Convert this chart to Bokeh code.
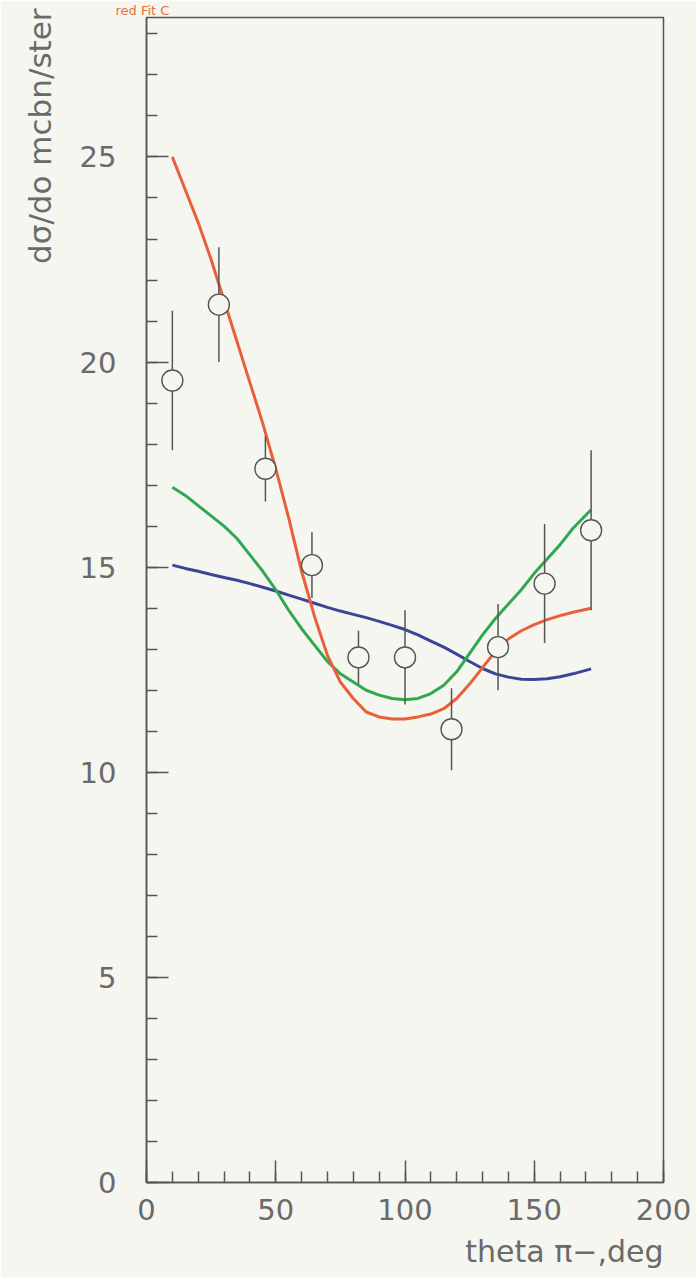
from bokeh.plotting import figure
from bokeh.models import Range1d, SingleIntervalTicker, Title, ColumnDataSource
from bokeh.embed import file_html
from bokeh.resources import INLINE

# measured points: pion angle (deg), cross section, error
theta_pts = [10, 28, 46, 64, 82, 100, 118, 136, 154, 172]
xsec = [19.55, 21.4, 17.4, 15.05, 12.8, 12.8, 11.05, 13.05, 14.6, 15.9]
xsec_err = [1.7, 1.4, 0.8, 0.8, 0.65, 1.15, 1.0, 1.05, 1.45, 1.95]

# fit curves
theta_fit = [10, 15, 20, 25, 30, 35, 40, 45, 50, 55, 60, 65, 70, 75, 80, 85, 90,
             95, 100, 105, 110, 115, 120, 125, 130, 135, 140, 145, 150, 155, 160, 165, 172]
fit_red = [25.0, 24.2, 23.4, 22.5, 21.5, 20.5, 19.5, 18.5, 17.4, 16.2, 14.9, 13.8, 12.85,
           12.2, 11.8, 11.47, 11.35, 11.3, 11.3, 11.35, 11.42, 11.55, 11.8, 12.15, 12.55,
           12.95, 13.25, 13.45, 13.6, 13.72, 13.82, 13.9, 14.0]
fit_green = [16.95, 16.75, 16.5, 16.25, 16.0, 15.7, 15.3, 14.9, 14.45, 13.95, 13.5, 13.1,
             12.7, 12.4, 12.2, 12.0, 11.88, 11.8, 11.77, 11.8, 11.92, 12.12, 12.45, 12.9,
             13.35, 13.75, 14.1, 14.45, 14.85, 15.2, 15.55, 15.95, 16.4]
fit_blue = [15.05, 14.97, 14.9, 14.82, 14.75, 14.68, 14.6, 14.51, 14.42, 14.32, 14.22,
            14.12, 14.02, 13.93, 13.85, 13.77, 13.68, 13.58, 13.48, 13.35, 13.2, 13.05,
            12.88, 12.7, 12.53, 12.4, 12.32, 12.27, 12.26, 12.28, 12.33, 12.4, 12.52]

title_text = "red Fit C"
x_title = "theta \u03c0\u2212,deg"
y_title = "d\u03c3/do mcbn/ster"

BG = "#f6f6f1"
INK = "#555555"
TXT = "#6a6a6a"
FONT = "DejaVu Sans"

p = figure(width=696, height=1277, output_backend="svg", toolbar_location=None,
           x_range=Range1d(0, 200), y_range=Range1d(0, 28.4),
           min_border_left=143, min_border_right=33, min_border_top=0,
           min_border_bottom=0)
p.background_fill_color = BG
p.border_fill_color = BG
p.outline_line_color = INK
p.outline_line_width = 1.5
p.xgrid.visible = False
p.ygrid.visible = False

p.xaxis.ticker = SingleIntervalTicker(interval=50, num_minor_ticks=5)
p.yaxis.ticker = SingleIntervalTicker(interval=5, num_minor_ticks=5)
for ax in (p.xaxis[0], p.yaxis[0]):
    ax.axis_line_color = INK
    ax.axis_line_width = 1.5
    ax.major_tick_line_color = INK
    ax.minor_tick_line_color = INK
    ax.major_tick_line_width = 1.5
    ax.minor_tick_line_width = 1.5
    ax.major_tick_in = 22
    ax.major_tick_out = 0
    ax.minor_tick_in = 11
    ax.minor_tick_out = 0
    ax.major_label_text_font = FONT
    ax.major_label_text_font_size = "29px"
    ax.major_label_text_color = TXT
p.xaxis.major_label_standoff = 16
p.yaxis.major_label_standoff = 30

# theory curves
for ys, col in ((fit_blue, "#3b4596"), (fit_green, "#2fa84f"), (fit_red, "#e8603a")):
    p.line(theta_fit, ys, line_color=col, line_width=3, line_join="round")

# data with error bars
src = ColumnDataSource(dict(
    x=theta_pts, y=xsec,
    lo=[v - e for v, e in zip(xsec, xsec_err)],
    hi=[v + e for v, e in zip(xsec, xsec_err)],
))
p.segment(x0="x", y0="lo", x1="x", y1="hi", source=src, line_color=INK, line_width=1.5)
p.scatter(x="x", y="y", source=src, marker="circle", size=21, fill_color=BG,
          line_color=INK, line_width=1.4)

# titles around the frame
p.add_layout(Title(text=title_text, align="left", offset=-31, standoff=0,
                   text_font=FONT, text_font_size="13px", text_color="#e8703a",
                   text_font_style="normal"), "above")
p.add_layout(Title(text=x_title, align="right", standoff=18,
                   text_font=FONT, text_font_size="30px", text_color=TXT,
                   text_font_style="normal"), "below")
p.add_layout(Title(text=y_title, align="right", standoff=38, offset=-9,
                   text_font=FONT, text_font_size="31px", text_color=TXT,
                   text_font_style="normal"), "left")

open("out.html", "w").write(file_html(p, INLINE))
